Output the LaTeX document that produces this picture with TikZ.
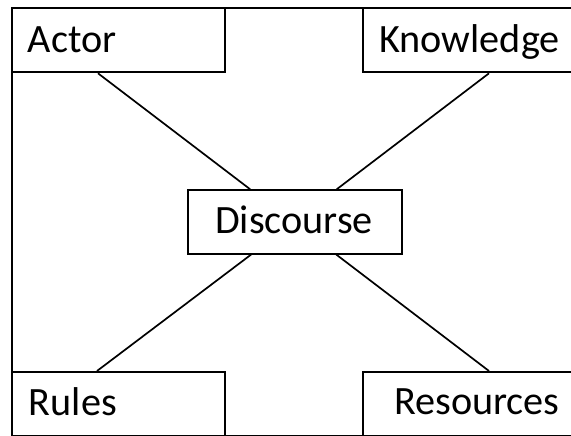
\documentclass[tikz,border=0pt]{standalone}
\usepackage{fontspec}
\setmainfont{Carlito}
\usetikzlibrary{calc}
\begin{document}
\begin{tikzpicture}[x=1pt,y=-1pt,line width=1.8pt,
  box/.style={draw,fill=white,inner sep=0pt,anchor=north west},
  lbl/.style={inner sep=0pt,font=\fontsize{40.2}{41}\selectfont},
  link/.style={draw,line width=1.7pt}]
\useasboundingbox (0,0) rectangle (571,436);
\node[box,fill=none,minimum width=564pt,minimum height=428pt] (frame) at (11,7) {};
\node[box,minimum width=213pt,minimum height=64.5pt] (actor) at (11,7) {};
\node[box,minimum width=213pt,minimum height=64.5pt] (know) at (362,7) {};
\node[box,minimum width=213pt,minimum height=64pt] (rules) at (11,371) {};
\node[box,minimum width=213pt,minimum height=64pt] (res) at (362,371) {};
\node[box,minimum width=214pt,minimum height=63.4pt] (disc) at (186.7,189.3) {};
\node[lbl,anchor=base west] (actort) at (27,52.5) {Actor};
\node[lbl,anchor=base east] (knowt) at (560.5,53) {Knowledge};
\node[lbl,anchor=base west] (rulest) at (28,415) {Rules};
\node[lbl,anchor=base east] (rest) at (560.5,414.5) {Resources};
\node[lbl,anchor=base] (disct) at (294,233.5) {Discourse};
\coordinate (a1) at ($(actor.south west)+(87,0)$);
\coordinate (k1) at ($(know.south west)+(127,0)$);
\coordinate (r1) at ($(rules.north west)+(86,0)$);
\coordinate (s1) at ($(res.north west)+(127,0)$);
\coordinate (d1) at ($(disc.north west)+(63.5,0)$);
\coordinate (d2) at ($(disc.north west)+(150,0)$);
\coordinate (d3) at ($(disc.south west)+(64.5,0)$);
\coordinate (d4) at ($(disc.south west)+(149.5,0)$);
\draw[link] (a1) -- (d1);
\draw[link] (k1) -- (d2);
\draw[link] (r1) -- (d3);
\draw[link] (s1) -- (d4);
\end{tikzpicture}
\end{document}
